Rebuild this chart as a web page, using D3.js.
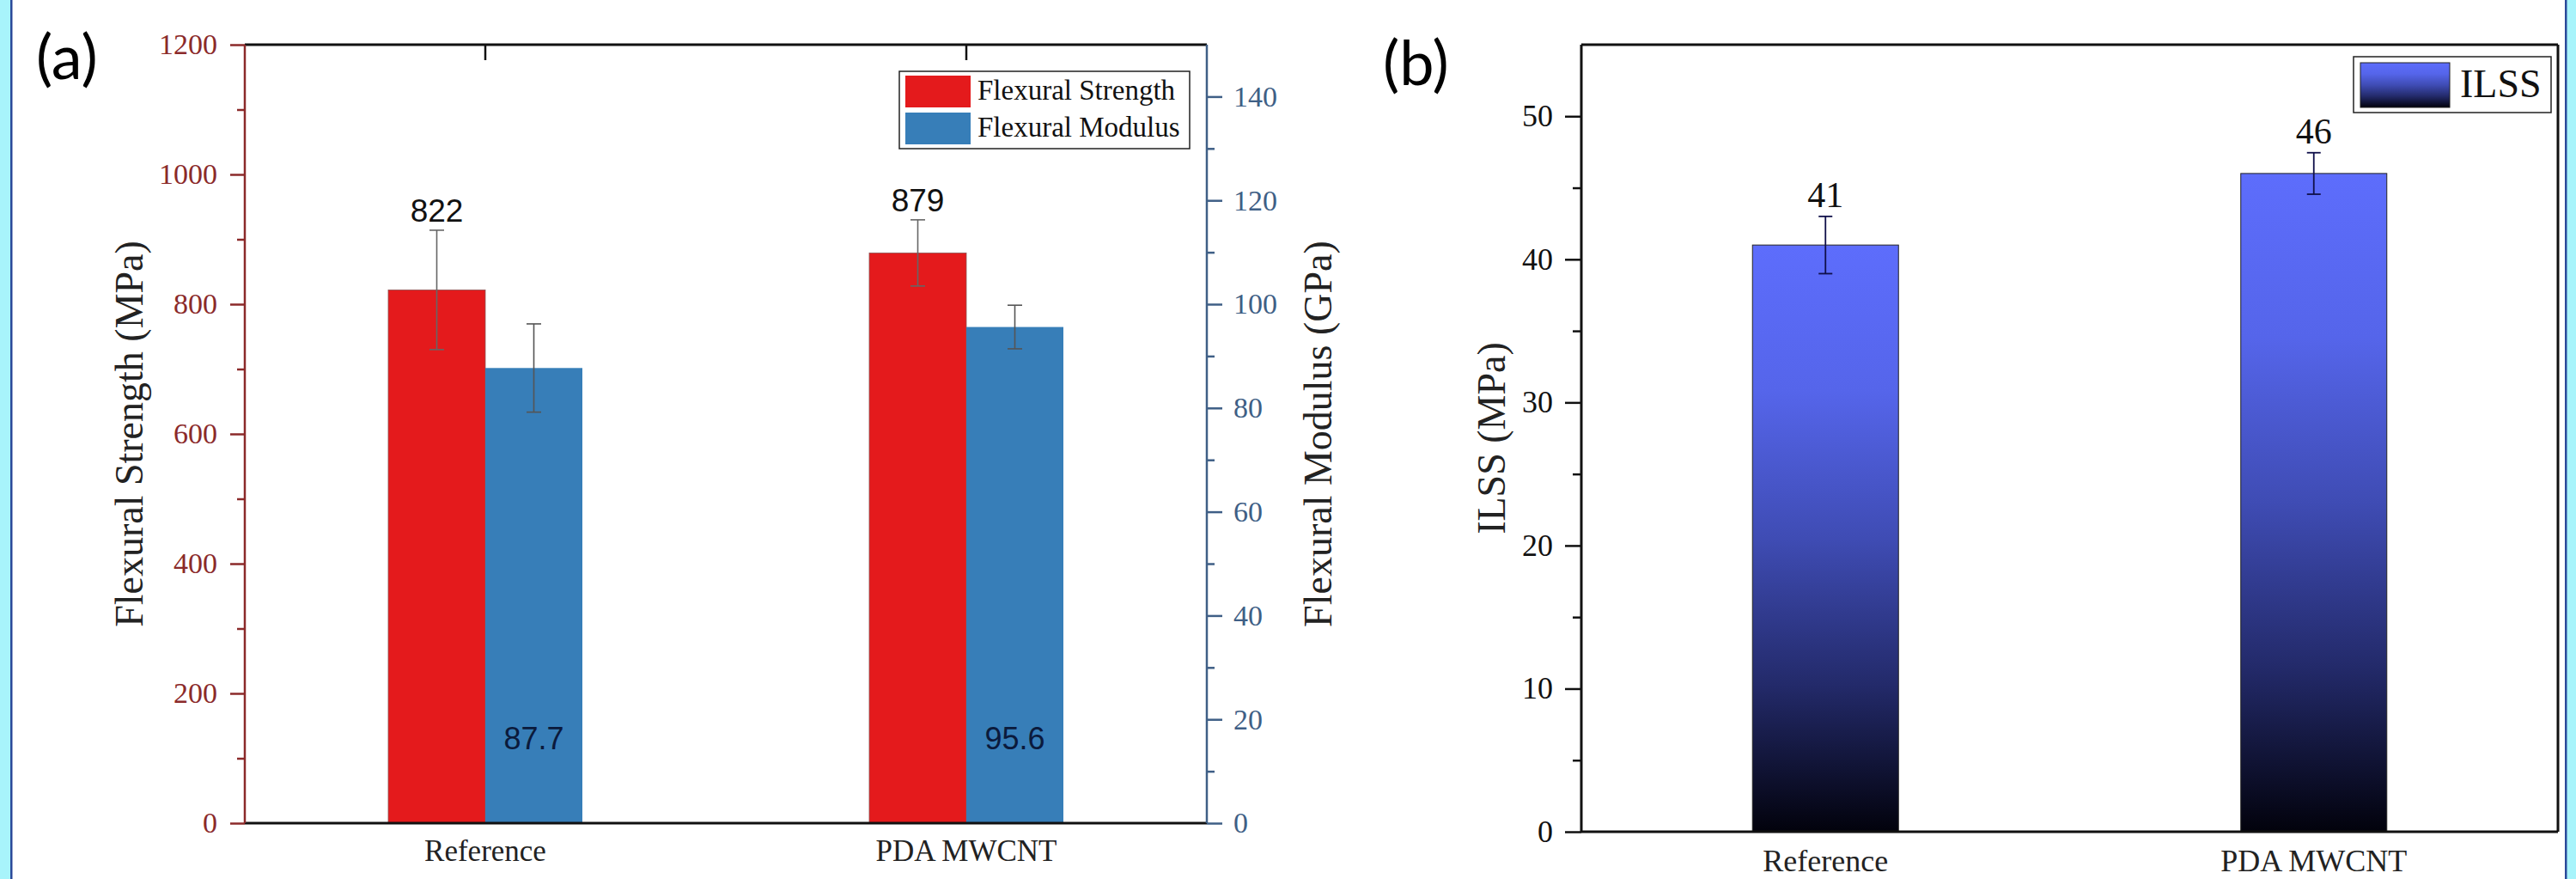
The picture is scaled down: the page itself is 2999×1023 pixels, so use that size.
<!DOCTYPE html>
<html>
<head>
<meta charset="utf-8">
<script src="https://cdn.jsdelivr.net/npm/d3@7"></script>
<style>
  html, body { margin: 0; padding: 0; background: #ffffff; }
  svg { display: block; }
</style>
</head>
<body>
<svg id="chart" width="2999" height="1023"></svg>
<script>
// ---------------- DATA ----------------
const categories = ["Reference", "PDA MWCNT"];
const strength = [822, 879];          // MPa
const strengthErr = [92, 51];
const modulus = [87.7, 95.6];         // GPa
const modulusErr = [8.5, 4.2];
const ilss = [41, 46];                // MPa
const ilssErr = [2.0, 1.45];
const strengthTicks = [0, 200, 400, 600, 800, 1000, 1200];
const strengthMinor = [100, 300, 500, 700, 900, 1100];
const modulusTicks = [0, 20, 40, 60, 80, 100, 120, 140];
const modulusMinor = [10, 30, 50, 70, 90, 110, 130];
const ilssTicks = [0, 10, 20, 30, 40, 50];
const ilssMinor = [5, 15, 25, 35, 45];
const legendA = ["Flexural Strength", "Flexural Modulus"];
const legendB = ["ILSS"];

// ---------------- SETUP ----------------
const svg = d3.select("#chart");
const serif = "'Liberation Serif', 'Times New Roman', serif";
const sans = "'Liberation Sans', Arial, sans-serif";
const red = "#e41a1c", blue = "#377eb8";
const redAxis = "#8b2a2a", blueAxis = "#3f5f86";

// background frame strips
svg.append("rect").attr("x", 0).attr("y", 0).attr("width", 2999).attr("height", 1023).attr("fill", "#ffffff");
svg.append("rect").attr("x", 0).attr("y", 0).attr("width", 12).attr("height", 1023).attr("fill", "#a8f4fb");
svg.append("rect").attr("x", 12).attr("y", 0).attr("width", 2.5).attr("height", 1023).attr("fill", "#2a4a9a");
svg.append("rect").attr("x", 2988).attr("y", 0).attr("width", 11).attr("height", 1023).attr("fill", "#a8f4fb");
svg.append("rect").attr("x", 2986).attr("y", 0).attr("width", 2.5).attr("height", 1023).attr("fill", "#2a4a9a");

// gradient
const defs = svg.append("defs");
const grad = defs.append("linearGradient").attr("id", "ilssGrad")
  .attr("x1", 0).attr("y1", 0).attr("x2", 0).attr("y2", 1);
[[0, "#5d6dfc"], [0.25, "#5565ea"], [0.5, "#3f4cb4"], [0.75, "#232a6a"], [1, "#02020c"]]
  .forEach(([o, c]) => grad.append("stop").attr("offset", o).attr("stop-color", c));

// ================= PANEL (a) =================
const A = { left: 285, right: 1405, top: 52, bottom: 958 };
const xA = d3.scaleBand().domain(categories).range([A.left, A.right]).padding(0);
const xSub = d3.scaleBand().domain(["s", "m"]).range([-113, 113]);
const yL = d3.scaleLinear().domain([0, 1200]).range([A.bottom, A.top]);
const yR = d3.scaleLinear().domain([0, 150]).range([A.bottom, A.top]);

const gA = svg.append("g");

// bars strength
gA.selectAll(".barS").data(categories).enter().append("rect")
  .attr("x", d => xA(d) + xA.bandwidth() / 2 + xSub("s"))
  .attr("width", xSub.bandwidth())
  .attr("y", (d, i) => yL(strength[i]))
  .attr("height", (d, i) => A.bottom - yL(strength[i]))
  .attr("fill", red).attr("stroke", "#8a5555").attr("stroke-width", 0.8);
// bars modulus
gA.selectAll(".barM").data(categories).enter().append("rect")
  .attr("x", d => xA(d) + xA.bandwidth() / 2 + xSub("m"))
  .attr("width", xSub.bandwidth())
  .attr("y", (d, i) => yR(modulus[i]))
  .attr("height", (d, i) => A.bottom - yR(modulus[i]))
  .attr("fill", blue);

function errBar(g, cx, yTop, yBot, cap, color, w) {
  g.append("line").attr("x1", cx).attr("x2", cx).attr("y1", yTop).attr("y2", yBot)
    .attr("stroke", color).attr("stroke-width", w);
  g.append("line").attr("x1", cx - cap / 2).attr("x2", cx + cap / 2).attr("y1", yTop).attr("y2", yTop)
    .attr("stroke", color).attr("stroke-width", w);
  g.append("line").attr("x1", cx - cap / 2).attr("x2", cx + cap / 2).attr("y1", yBot).attr("y2", yBot)
    .attr("stroke", color).attr("stroke-width", w);
}
categories.forEach((c, i) => {
  const cs = xA(c) + xA.bandwidth() / 2 + xSub("s") + xSub.bandwidth() / 2;
  const cm = xA(c) + xA.bandwidth() / 2 + xSub("m") + xSub.bandwidth() / 2;
  errBar(gA, cs, yL(strength[i] + strengthErr[i]), yL(strength[i] - strengthErr[i]), 17, "#666", 1.6);
  errBar(gA, cm, yR(modulus[i] + modulusErr[i]), yR(modulus[i] - modulusErr[i]), 17, "#555", 1.6);
  gA.append("text").attr("x", cs).attr("y", yL(strength[i] + strengthErr[i]) - 10)
    .attr("text-anchor", "middle").attr("font-family", sans).attr("font-size", 37)
    .attr("fill", "#111").text(String(strength[i]));
  gA.append("text").attr("x", cm).attr("y", A.bottom - 86)
    .attr("text-anchor", "middle").attr("font-family", sans).attr("font-size", 36)
    .attr("fill", "#0b1a3c").text(modulus[i].toFixed(1));
});

// axes
function styleAxis(g, color, fs) {
  g.select(".domain").remove();
  g.selectAll("line").attr("stroke", color).attr("stroke-width", 2.5);
  g.selectAll("text").attr("fill", color).attr("font-family", serif).attr("font-size", fs);
}
const axL = gA.append("g").attr("transform", `translate(${A.left},0)`)
  .call(d3.axisLeft(yL).tickValues(strengthTicks).tickSize(17).tickPadding(15).tickFormat(d3.format("d")));
styleAxis(axL, redAxis, 34);
const axLm = gA.append("g").attr("transform", `translate(${A.left},0)`)
  .call(d3.axisLeft(yL).tickValues(strengthMinor).tickSize(9).tickFormat(""));
styleAxis(axLm, redAxis, 34);
const axR = gA.append("g").attr("transform", `translate(${A.right},0)`)
  .call(d3.axisRight(yR).tickValues(modulusTicks).tickSize(18).tickPadding(13).tickFormat(d3.format("d")));
styleAxis(axR, blueAxis, 34);
const axRm = gA.append("g").attr("transform", `translate(${A.right},0)`)
  .call(d3.axisRight(yR).tickValues(modulusMinor).tickSize(9).tickFormat(""));
styleAxis(axRm, blueAxis, 34);
// top ticks (inward)
const axT = gA.append("g").attr("transform", `translate(0,${A.top})`)
  .call(d3.axisTop(xA).tickSize(-18).tickFormat(""));
axT.select(".domain").remove();
axT.selectAll("line").attr("stroke", "#111").attr("stroke-width", 2.5);
// bottom labels
const axB = gA.append("g").attr("transform", `translate(0,${A.bottom})`)
  .call(d3.axisBottom(xA).tickSize(0).tickPadding(19));
axB.select(".domain").remove();
axB.selectAll("text").attr("fill", "#222").attr("font-family", serif).attr("font-size", 35);

// spines
gA.append("line").attr("x1", A.left).attr("x2", A.right).attr("y1", A.top).attr("y2", A.top).attr("stroke", "#111").attr("stroke-width", 3);
gA.append("line").attr("x1", A.left).attr("x2", A.right).attr("y1", A.bottom).attr("y2", A.bottom).attr("stroke", "#111").attr("stroke-width", 3);
gA.append("line").attr("x1", A.left).attr("x2", A.left).attr("y1", A.top).attr("y2", A.bottom).attr("stroke", redAxis).attr("stroke-width", 2.5);
gA.append("line").attr("x1", A.right).attr("x2", A.right).attr("y1", A.top).attr("y2", A.bottom).attr("stroke", blueAxis).attr("stroke-width", 2.5);

// axis titles
gA.append("text").attr("transform", `translate(150,${(A.top + A.bottom) / 2}) rotate(-90)`)
  .attr("text-anchor", "middle").attr("dy", "0.35em").attr("font-family", serif).attr("font-size", 46)
  .attr("fill", "#222").text("Flexural Strength (MPa)");
gA.append("text").attr("transform", `translate(1534,${(A.top + A.bottom) / 2}) rotate(-90)`)
  .attr("text-anchor", "middle").attr("dy", "0.35em").attr("font-family", serif).attr("font-size", 46)
  .attr("fill", "#222").text("Flexural Modulus (GPa)");

// legend (a)
const legA = gA.append("g");
legA.append("rect").attr("x", 1047).attr("y", 83).attr("width", 338).attr("height", 90)
  .attr("fill", "#fff").attr("stroke", "#222").attr("stroke-width", 1.5);
[red, blue].forEach((c, i) => {
  legA.append("rect").attr("x", 1054).attr("y", 88 + i * 43).attr("width", 76).attr("height", 37).attr("fill", c);
  legA.append("text").attr("x", 1138).attr("y", 116 + i * 43).attr("font-family", serif).attr("font-size", 33)
    .attr("fill", "#111").text(legendA[i]);
});

// panel label
svg.append("text").attr("x", 42).attr("y", 92).attr("font-family", "Lato, 'Open Sans', sans-serif")
  .attr("font-size", 72).attr("fill", "#000").text("(a)");

// ================= PANEL (b) =================
const B = { left: 1841, right: 2978, top: 52, bottom: 968 };
const xB = d3.scaleBand().domain(categories).range([B.left, B.right]).padding(0);
const yB = d3.scaleLinear().domain([0, 55]).range([B.bottom, B.top]);
const barWB = 170;
const gB = svg.append("g");

gB.selectAll(".barI").data(categories).enter().append("rect")
  .attr("x", d => xB(d) + xB.bandwidth() / 2 - barWB / 2)
  .attr("width", barWB)
  .attr("y", (d, i) => yB(ilss[i]))
  .attr("height", (d, i) => B.bottom - yB(ilss[i]))
  .attr("fill", "url(#ilssGrad)").attr("stroke", "#222").attr("stroke-width", 1);

categories.forEach((c, i) => {
  const cx = xB(c) + xB.bandwidth() / 2;
  errBar(gB, cx, yB(ilss[i] + ilssErr[i]), yB(ilss[i] - ilssErr[i]), 16, "#10104a", 1.8);
  gB.append("text").attr("x", cx).attr("y", yB(ilss[i] + ilssErr[i]) - 11)
    .attr("text-anchor", "middle").attr("font-family", serif).attr("font-size", 42)
    .attr("fill", "#111").text(String(ilss[i]));
});

const axBL = gB.append("g").attr("transform", `translate(${B.left},0)`)
  .call(d3.axisLeft(yB).tickValues(ilssTicks).tickSize(19).tickPadding(14).tickFormat(d3.format("d")));
styleAxis(axBL, "#111", 36);
const axBLm = gB.append("g").attr("transform", `translate(${B.left},0)`)
  .call(d3.axisLeft(yB).tickValues(ilssMinor).tickSize(10).tickFormat(""));
styleAxis(axBLm, "#111", 36);
const axBB = gB.append("g").attr("transform", `translate(0,${B.bottom})`)
  .call(d3.axisBottom(xB).tickSize(0).tickPadding(20));
axBB.select(".domain").remove();
axBB.selectAll("text").attr("fill", "#222").attr("font-family", serif).attr("font-size", 36);

// spines
[[B.left, B.top, B.right, B.top], [B.left, B.bottom, B.right, B.bottom],
 [B.left, B.top, B.left, B.bottom], [B.right, B.top, B.right, B.bottom]].forEach(([x1, y1, x2, y2]) =>
  gB.append("line").attr("x1", x1).attr("y1", y1).attr("x2", x2).attr("y2", y2)
    .attr("stroke", "#111").attr("stroke-width", 3));

gB.append("text").attr("transform", `translate(1736,${(B.top + B.bottom) / 2}) rotate(-90)`)
  .attr("text-anchor", "middle").attr("dy", "0.35em").attr("font-family", serif).attr("font-size", 46)
  .attr("fill", "#222").text("ILSS (MPa)");

// legend (b)
const legB = gB.append("g");
legB.append("rect").attr("x", 2740).attr("y", 66).attr("width", 230).attr("height", 65)
  .attr("fill", "#fff").attr("stroke", "#222").attr("stroke-width", 1.5);
legB.append("rect").attr("x", 2748).attr("y", 73).attr("width", 104).attr("height", 52)
  .attr("fill", "url(#ilssGrad)").attr("stroke", "#222").attr("stroke-width", 1);
legB.append("text").attr("x", 2864).attr("y", 113).attr("font-family", serif).attr("font-size", 46)
  .attr("fill", "#111").text(legendB[0]);

svg.append("text").attr("x", 1610).attr("y", 99).attr("font-family", "Lato, 'Open Sans', sans-serif")
  .attr("font-size", 72).attr("fill", "#000").text("(b)");
</script>
</body>
</html>
